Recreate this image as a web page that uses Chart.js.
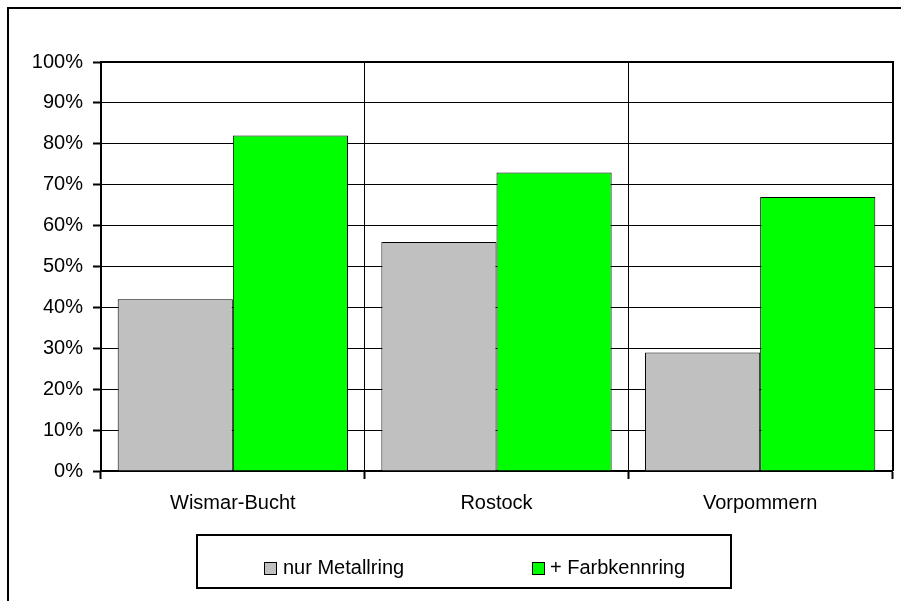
<!DOCTYPE html>
<html>
<head>
<meta charset="utf-8">
<script src="https://cdn.jsdelivr.net/npm/chart.js@4"></script>
<style>
  html, body { margin: 0; padding: 0; background: #fff; }
  canvas { display: block; }
</style>
</head>
<body>
<canvas id="c" width="901" height="601"></canvas>
<script>
const categories = ['Wismar-Bucht', 'Rostock', 'Vorpommern'];
const seriesNames = ['nur Metallring', '+ Farbkennring'];
const metallring = [42, 56, 29];
const farbkennring = [82, 73, 67];
const yTicks = [0, 10, 20, 30, 40, 50, 60, 70, 80, 90, 100];
const colors = ['#C0C0C0', '#00FF00'];

const FONT = { family: '"Liberation Sans", Arial, sans-serif', size: 20 };

const framePlugin = {
  id: 'frame',
  beforeDraw(chart) {
    const ctx = chart.ctx;
    ctx.save();
    ctx.fillStyle = '#fff';
    ctx.fillRect(0, 0, chart.width, chart.height);
    ctx.strokeStyle = '#000';
    ctx.lineWidth = 2;
    ctx.strokeRect(8, 8, chart.width + 20, chart.height + 20);
    ctx.restore();
  },
  afterDraw(chart) {
    const ctx = chart.ctx;
    const a = chart.chartArea;
    ctx.save();
    ctx.strokeStyle = '#000';
    ctx.lineWidth = 2;
    ctx.beginPath();
    ctx.moveTo(a.left, a.top);
    ctx.lineTo(a.right + 1, a.top);
    ctx.lineTo(a.right + 1, a.bottom);
    ctx.stroke();

    // legend box
    ctx.strokeRect(197, 535, 534, 53);
    const items = chart.data.datasets;
    const sqX = [264, 532];
    const txX = [283, 550];
    ctx.font = FONT.size + 'px ' + FONT.family;
    ctx.textBaseline = 'middle';
    ctx.textAlign = 'left';
    items.forEach((ds, i) => {
      ctx.fillStyle = ds.backgroundColor;
      ctx.fillRect(sqX[i], 562, 12, 12);
      ctx.lineWidth = 1;
      ctx.strokeStyle = '#000';
      ctx.strokeRect(sqX[i] + 0.5, 562.5, 12, 12);
      ctx.fillStyle = '#000';
      ctx.fillText(ds.label, txX[i], 568);
    });
    ctx.restore();
  }
};

new Chart(document.getElementById('c'), {
  type: 'bar',
  data: {
    labels: categories,
    datasets: [
      { label: seriesNames[0], data: metallring, backgroundColor: colors[0], borderColor: '#000', borderWidth: 1 },
      { label: seriesNames[1], data: farbkennring, backgroundColor: colors[1], borderColor: '#000', borderWidth: 1 }
    ]
  },
  options: {
    responsive: false,
    devicePixelRatio: 1,
    animation: false,
    categoryPercentage: 0.8734,
    barPercentage: 1.0,
    layout: { padding: { top: 62, right: 9, left: 0, bottom: 0 } },
    plugins: { legend: { display: false }, tooltip: { enabled: false } },
    scales: {
      x: {
        grid: { display: true, offset: true, color: '#000', lineWidth: 1, tickLength: 8, tickWidth: 2, tickColor: '#000' },
        border: { display: true, color: '#000', width: 2 },
        ticks: { color: '#000', font: FONT, padding: 12 },
        afterFit(s) { s.height = 130; }
      },
      y: {
        min: 0, max: 100,
        afterBuildTicks(s) { s.ticks = yTicks.map(v => ({ value: v })); },
        grid: { color: '#000', lineWidth: 1, tickLength: 8, tickWidth: 2, tickColor: '#000' },
        border: { display: true, color: '#000', width: 2 },
        ticks: { color: '#000', font: FONT, padding: 10, callback: v => v + '%' },
        afterFit(s) { s.width = 101; }
      }
    }
  },
  plugins: [framePlugin]
});
</script>
</body>
</html>
